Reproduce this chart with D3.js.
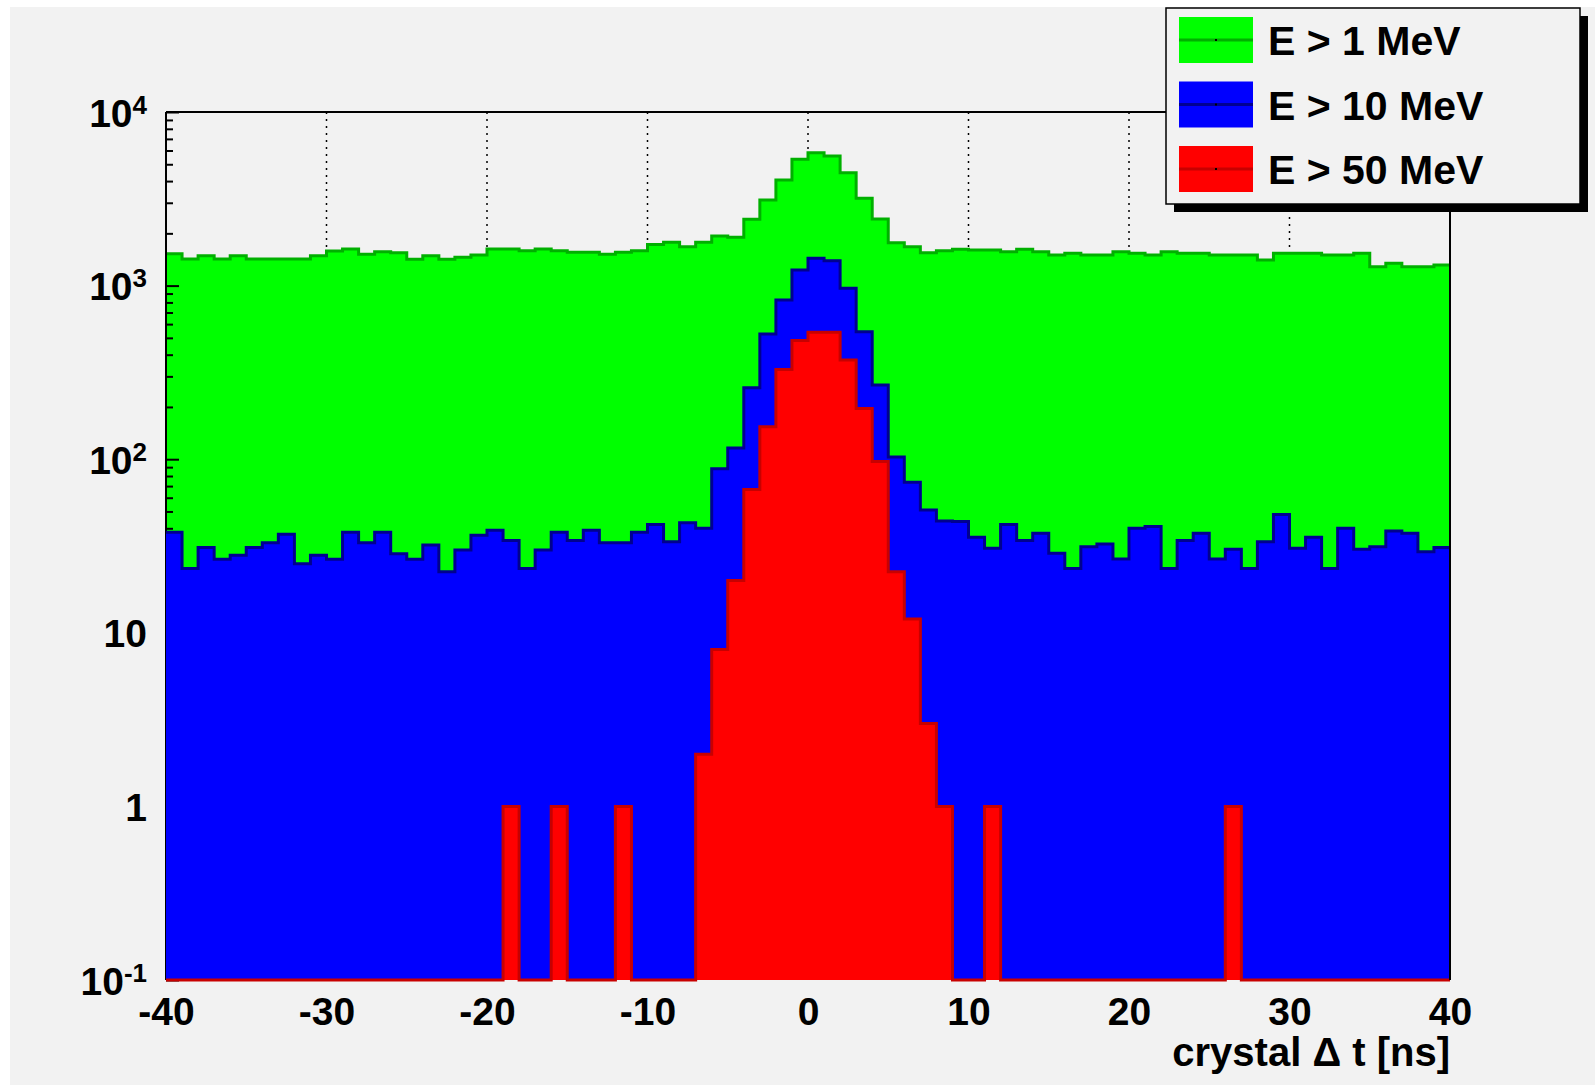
<!DOCTYPE html>
<html>
<head>
<meta charset="utf-8">
<script src="https://cdn.jsdelivr.net/npm/d3@7"></script>
<style>
	body { margin: 0; background: #ffffff; }
	text { font-family: 'Liberation Sans', Arial, sans-serif; font-weight: bold; fill: #000; }
</style>
</head>
<body>
<div id="canvas"></div>
<script>
// bin edges of the histograms, 1 ns per bin
const binEdges = d3.range(-40, 41, 1);

// counts per bin (80 bins from -40 to 40 ns)
const countsE1 = [
	1527, 1423, 1487, 1423, 1487, 1423, 1423, 1423, 1423, 1487,
	1582, 1625, 1514, 1568, 1547, 1417, 1487, 1417, 1455, 1501,
	1625, 1625, 1589, 1625, 1589, 1555, 1555, 1514, 1555, 1589,
	1725, 1775, 1676, 1775, 1931, 1897, 2408, 3113, 4058, 5338,
	5832, 5579, 4474, 3183, 2419, 1767, 1676, 1548, 1589, 1620,
	1604, 1604, 1568, 1618, 1568, 1501, 1534, 1501, 1501, 1568,
	1534, 1501, 1568, 1534, 1534, 1501, 1501, 1501, 1404, 1534,
	1534, 1534, 1501, 1501, 1534, 1286, 1344, 1286, 1286, 1314
];
const countsE10 = [
	38, 23.5, 31, 26.5, 28, 31, 33, 37, 25, 28,
	26.5, 38, 33, 38, 28.5, 26.5, 32, 22.5, 30, 36.5,
	39, 34, 23.5, 30, 38, 34, 39, 33, 33, 38,
	42, 33.5, 43, 40, 88, 116, 258, 526, 826, 1230,
	1436, 1392, 964, 543, 268, 103, 73.6, 51, 44, 43.7,
	35.5, 30.7, 42, 34, 37.4, 28.7, 23.5, 31.3, 32.5, 26.6,
	40, 41, 23.5, 34, 37.4, 26.6, 30.3, 23.5, 33.5, 48,
	30.7, 35.5, 23.5, 40, 30.3, 31.3, 38.6, 37.4, 29.3, 31
];
const countsE50 = [
	0, 0, 0, 0, 0, 0, 0, 0, 0, 0,
	0, 0, 0, 0, 0, 0, 0, 0, 0, 0,
	0, 1, 0, 0, 1, 0, 0, 0, 1, 0,
	0, 0, 0, 2, 8, 20, 67, 154, 329, 482,
	538, 538, 373, 196, 97, 22.5, 12, 3, 1, 0,
	0, 1, 0, 0, 0, 0, 0, 0, 0, 0,
	0, 0, 0, 0, 0, 0, 1, 0, 0, 0,
	0, 0, 0, 0, 0, 0, 0, 0, 0, 0
];

const seriesNames = ['E > 1 MeV', 'E > 10 MeV', 'E > 50 MeV'];
const fillColors = ['#00ff00', '#0000ff', '#ff0000'];
const lineColors = ['#00b000', '#000090', '#c80000'];

const xTicks = [-40, -30, -20, -10, 0, 10, 20, 30, 40];
const gridTicks = [-30, -20, -10, 0, 10, 20, 30];
const yMajor = [0.1, 1, 10, 100, 1000, 10000];
const yLabels = [['10', '-1'], ['1', ''], ['10', ''], ['10', '2'], ['10', '3'], ['10', '4']];
const xTitle = 'crystal \u0394 t [ns]';

const w = 1595;
const h = 1085;
const frameLeft = 166, frameRight = 1450, frameTop = 112, frameBottom = 980;

const svg = d3.select('#canvas')
	.append('svg')
	.attr('width', w)
	.attr('height', h);

svg.append('rect')
	.attr('x', 10)
	.attr('y', 7)
	.attr('width', w - 10)
	.attr('height', h - 7)
	.attr('fill', '#f2f2f2');

const xScale = d3.scaleLinear()
	.domain([-40, 40])
	.range([frameLeft, frameRight]);

const yScale = d3.scaleLog()
	.domain([0.1, 10000])
	.range([frameBottom, frameTop]);

// grid
svg.append('g')
	.selectAll('line')
	.data(gridTicks)
	.enter()
	.append('line')
	.attr('x1', d => xScale(d))
	.attr('x2', d => xScale(d))
	.attr('y1', frameTop)
	.attr('y2', frameBottom)
	.attr('stroke', '#000')
	.attr('stroke-width', 1.5)
	.attr('stroke-dasharray', '2,5');

function binPoints(counts) {
	const pts = counts.map((c, i) => [binEdges[i], c]);
	pts.push([binEdges[binEdges.length - 1], counts[counts.length - 1]]);
	return pts;
}

const yOf = v => yScale(Math.max(v, 0.1));

const area = d3.area()
	.curve(d3.curveStepAfter)
	.x(d => xScale(d[0]))
	.y0(frameBottom)
	.y1(d => yOf(d[1]));

const line = d3.line()
	.curve(d3.curveStepAfter)
	.x(d => xScale(d[0]))
	.y(d => yOf(d[1]));

function drawHist(counts, k) {
	const g = svg.append('g').attr('class', 'hist');
	g.append('path')
		.attr('d', area(binPoints(counts)))
		.attr('fill', fillColors[k]);
	g.append('path')
		.attr('d', line(binPoints(counts)))
		.attr('fill', 'none')
		.attr('stroke', lineColors[k])
		.attr('stroke-width', 3);
}

drawHist(countsE1, 0);

// y axis (drawn over the first histogram, under the others)
const yMinor = [];
yMajor.slice(0, -1).forEach(p => { for (let m = 2; m < 10; m++) yMinor.push(p * m); });

svg.append('g')
	.attr('transform', 'translate(' + frameLeft + ', 0)')
	.call(d3.axisLeft(yScale).tickValues(yMinor).tickSize(-7).tickFormat(''))
	.call(g => g.select('.domain').remove())
	.selectAll('line').attr('stroke', '#000').attr('stroke-width', 2);

const yAxis = svg.append('g')
	.attr('transform', 'translate(' + frameLeft + ', 0)')
	.call(d3.axisLeft(yScale).tickValues(yMajor).tickSize(-13).tickPadding(19).tickFormat(''));
yAxis.select('.domain').attr('stroke', '#000').attr('stroke-width', 2).attr('d', 'M0,' + frameBottom + 'V' + frameTop);
yAxis.selectAll('line').attr('stroke', '#000').attr('stroke-width', 2);
yAxis.selectAll('.tick text')
	.attr('dy', '0.36em')
	.style('font-size', '39px')
	.each(function(d, i) {
		const t = d3.select(this);
		const lab = yLabels[yMajor.indexOf(d)];
		t.append('tspan').text(lab[0]);
		if (lab[1] !== '') {
			t.append('tspan')
				.attr('dy', '-0.5em')
				.style('font-size', '26px')
				.text(lab[1]);
		}
	});

drawHist(countsE10, 1);
drawHist(countsE50, 2);

// frame top and right
svg.append('path')
	.attr('d', 'M' + frameLeft + ',' + frameTop + 'H' + frameRight + 'V' + frameBottom)
	.attr('fill', 'none')
	.attr('stroke', '#000')
	.attr('stroke-width', 2);

// x axis labels
const xAxis = svg.append('g')
	.attr('transform', 'translate(0, ' + frameBottom + ')')
	.call(d3.axisBottom(xScale).tickValues(xTicks).tickSize(0).tickPadding(17).tickFormat(d => String(d)));
xAxis.select('.domain').remove();
xAxis.selectAll('text').style('font-size', '39px');

svg.append('text')
	.attr('x', frameRight)
	.attr('y', 1066)
	.style('text-anchor', 'end')
	.style('font-size', '40px')
	.text(xTitle);

// legend
const legend = svg.append('g').attr('id', 'legend');
legend.append('rect')
	.attr('x', 1174).attr('y', 16)
	.attr('width', 414).attr('height', 196)
	.attr('fill', '#000');
legend.append('rect')
	.attr('x', 1166).attr('y', 8)
	.attr('width', 414).attr('height', 196)
	.attr('fill', '#f2f2f2')
	.attr('stroke', '#000')
	.attr('stroke-width', 1.5);

const rows = legend.selectAll('g.row')
	.data(seriesNames)
	.enter()
	.append('g')
	.attr('class', 'row')
	.attr('transform', (d, i) => 'translate(0, ' + (17 + i * 64.5) + ')');

rows.append('rect')
	.attr('x', 1179).attr('y', 0)
	.attr('width', 74).attr('height', 46)
	.attr('fill', (d, i) => fillColors[i]);
rows.append('line')
	.attr('x1', 1179).attr('x2', 1253)
	.attr('y1', 23).attr('y2', 23)
	.attr('stroke', (d, i) => lineColors[i])
	.attr('stroke-width', 3);
rows.append('rect')
	.attr('x', 1215).attr('y', 22)
	.attr('width', 2).attr('height', 2)
	.attr('fill', '#000');
rows.append('text')
	.attr('x', 1268)
	.attr('y', 38)
	.style('font-size', '41px')
	.text(d => d);
</script>
</body>
</html>
